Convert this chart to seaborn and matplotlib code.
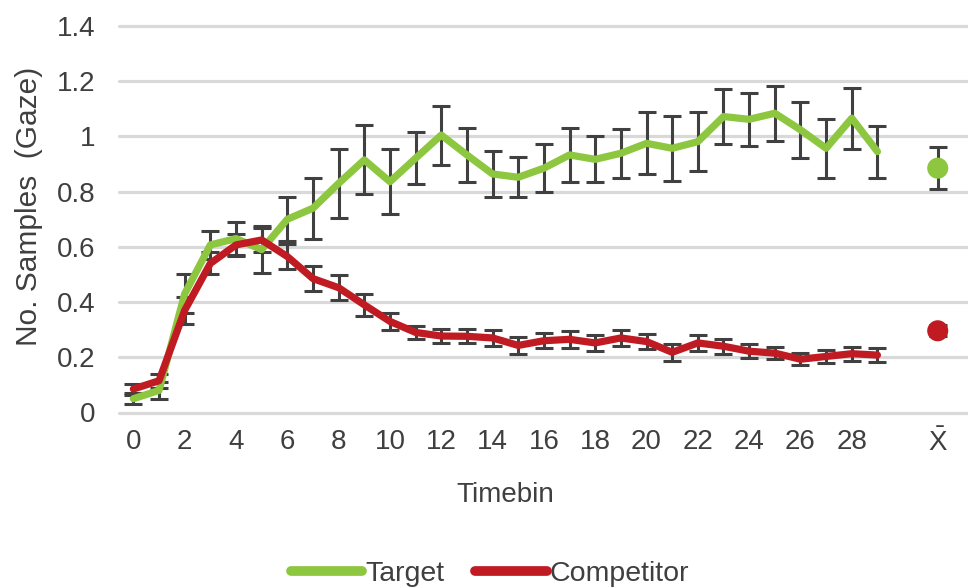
import numpy as np
import pandas as pd
import matplotlib
matplotlib.use("Agg")
import matplotlib.pyplot as plt
from matplotlib.lines import Line2D
import seaborn as sns

# Mean gaze samples per timebin, with standard errors
timebins = list(range(30))
target = [0.05, 0.08, 0.43, 0.607, 0.63, 0.59, 0.70, 0.74, 0.83, 0.915,
          0.836, 0.921, 1.005, 0.933, 0.864, 0.852, 0.885, 0.933, 0.917, 0.939,
          0.975, 0.957, 0.981, 1.072, 1.062, 1.084, 1.024, 0.957, 1.066, 0.945]
target_se = [0.02, 0.03, 0.07, 0.05, 0.06, 0.085, 0.08, 0.11, 0.125, 0.125,
             0.118, 0.095, 0.107, 0.097, 0.085, 0.073, 0.087, 0.098, 0.083, 0.088,
             0.112, 0.118, 0.106, 0.10, 0.097, 0.10, 0.102, 0.106, 0.11, 0.094]
competitor = [0.085, 0.115, 0.37, 0.54, 0.607, 0.625, 0.565, 0.485, 0.452, 0.39,
              0.33, 0.29, 0.277, 0.276, 0.27, 0.243, 0.26, 0.265, 0.252, 0.27,
              0.257, 0.218, 0.252, 0.24, 0.222, 0.215, 0.193, 0.203, 0.213, 0.208]
competitor_se = [0.02, 0.025, 0.05, 0.04, 0.04, 0.045, 0.045, 0.045, 0.045, 0.04,
                 0.03, 0.025, 0.025, 0.025, 0.028, 0.03, 0.027, 0.03, 0.03, 0.03,
                 0.027, 0.03, 0.03, 0.027, 0.025, 0.022, 0.022, 0.025, 0.025, 0.025]

# Overall means (X̄ column)
series_names = ["Target", "Competitor"]
overall_mean = [0.885, 0.296]
overall_se = [0.076, 0.02]
mean_position = 31.35

x_ticks = list(range(0, 29, 2))
x_ticklabels = [str(t) for t in x_ticks]
mean_label = r"$\bar{\mathrm{X}}$"
y_ticks = [0, 0.2, 0.4, 0.6, 0.8, 1.0, 1.2, 1.4]
y_ticklabels = ["0", "0.2", "0.4", "0.6", "0.8", "1", "1.2", "1.4"]

colors = {"Target": "#8DC63F", "Competitor": "#C01A22"}
err_color = "#404040"
grid_color = "#D9D9D9"
text_color = "#3F3F3F"

sns.set_theme(style="white")
plt.rcParams["font.family"] = ["Liberation Sans", "DejaVu Sans"]
plt.rcParams["mathtext.fontset"] = "custom"
plt.rcParams["mathtext.rm"] = "Liberation Sans"

df = pd.DataFrame({
    "Timebin": timebins * 2,
    "value": target + competitor,
    "se": target_se + competitor_se,
    "series": ["Target"] * len(timebins) + ["Competitor"] * len(timebins),
})
means = pd.DataFrame({"x": [mean_position] * 2, "value": overall_mean,
                      "se": overall_se, "series": series_names})

fig = plt.figure(figsize=(9.68, 5.88), dpi=100)
ax = fig.add_axes([119 / 968, (588 - 412.5) / 588, (968 - 119) / 968, (412.5 - 26) / 588])

# Horizontal gridlines (including the zero baseline)
for yv in y_ticks:
    ax.axhline(yv, color=grid_color, lw=2.3, zorder=0, clip_on=False)

# Error bars behind the lines
err_kw = dict(fmt="none", ecolor=err_color, elinewidth=2.2, capsize=6.5,
              capthick=2.2, zorder=2)
for name in series_names:
    sub = df[df["series"] == name]
    ax.errorbar(sub["Timebin"], sub["value"], yerr=sub["se"], **err_kw)
ax.errorbar(means["x"], means["value"], yerr=means["se"], **err_kw)

sns.lineplot(data=df, x="Timebin", y="value", hue="series", palette=colors,
             hue_order=series_names, linewidth=5.2, ax=ax, legend=False,
             zorder=3, solid_capstyle="round", solid_joinstyle="round")
sns.scatterplot(data=means, x="x", y="value", hue="series", palette=colors,
                hue_order=series_names, s=230, edgecolor="none", ax=ax,
                legend=False, zorder=4)

ax.set_xlim(-0.56, 32.53)
ax.set_ylim(0, 1.4)
ax.set_xticks(x_ticks + [mean_position])
ax.set_xticklabels(x_ticklabels + [mean_label])
ax.set_yticks(y_ticks)
ax.set_yticklabels(y_ticklabels)
ax.tick_params(axis="both", length=0, labelsize=20, colors=text_color)
ax.tick_params(axis="y", pad=17)
ax.tick_params(axis="x", pad=12)
ax.set_xlabel("")
ax.set_ylabel("")
for s in ax.spines.values():
    s.set_visible(False)
ax.grid(False)

fig.text(29 / 968, 1 - 206 / 588, "No. Samples  (Gaze)", rotation=90,
         ha="center", va="center", fontsize=21.5, color=text_color)
fig.text(505 / 968, 1 - 502 / 588, "Timebin", ha="center", va="baseline",
         fontsize=20, color=text_color)

handles = [Line2D([0], [0], color=colors[n], lw=7, solid_capstyle="round")
           for n in series_names]
fig.legend(handles, series_names, loc="center", ncol=2,
           bbox_to_anchor=(490 / 968, 1 - 574 / 588), frameon=False,
           fontsize=20.5, labelcolor=text_color, handlelength=2.5,
           handletextpad=0.1, columnspacing=1.1, borderpad=0, borderaxespad=0)

fig.savefig("out.png", dpi=100)
